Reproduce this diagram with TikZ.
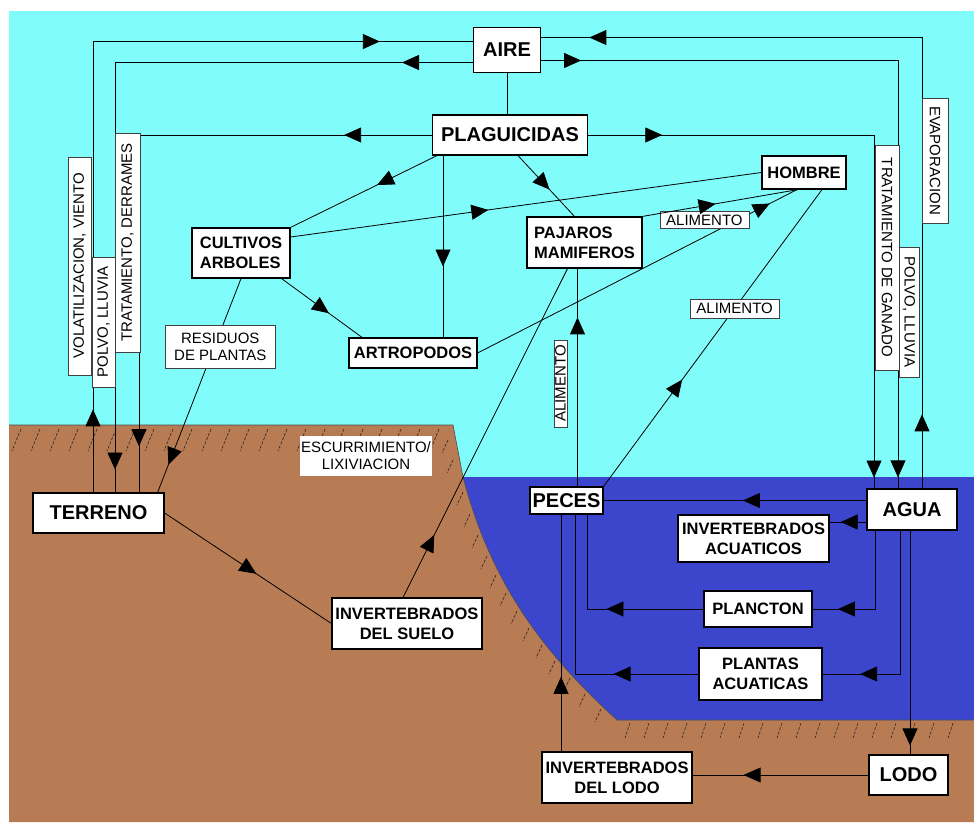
\documentclass[tikz,border=0pt]{standalone}
\usepackage{fontspec}
\setmainfont{Liberation Sans}
\usepackage{tikz}
\usetikzlibrary{arrows.meta, decorations.markings}

\definecolor{cielo}{RGB}{128,252,250}
\definecolor{tierra}{RGB}{184,124,84}
\definecolor{mar}{RGB}{60,70,205}

\begin{document}
\begin{tikzpicture}[x=1pt,y=-1pt,line width=0.8pt]
\tikzset{
  tri/.tip={Triangle[length=17pt,width=15pt]},
  flujo/.style={postaction={decorate},decoration={markings,mark=at position #1 with {\arrow{tri}}}},
  flujos/.style 2 args={postaction={decorate},decoration={markings,mark=at position #1 with {\arrow{tri}},mark=at position #2 with {\arrow{tri}}}},
  hatch/.style={line width=0.6pt,black!85,dash pattern=on 3pt off 1.5pt}
}
\tikzstyle{box}=[draw=black,fill=white,line width=1.2pt,inner sep=2pt,align=center,font=\fontsize{16.5}{20}\selectfont\bfseries]
\tikzstyle{bigbox}=[box,font=\fontsize{20}{24}\selectfont\bfseries]
\tikzstyle{lbl}=[draw=black!75,line width=0.6pt,fill=white,inner sep=1pt,align=center,font=\fontsize{15}{17}\selectfont]

  \useasboundingbox (0,0) rectangle (974,822);

  % aire, suelo y agua
  \fill[cielo] (9,11) rectangle (974,822);
  \fill[tierra] (9,425) -- (453,425) -- (463,477) .. controls (490,580) and (540,650) .. (617,720)
        -- (974,720) -- (974,822) -- (9,822) -- cycle;
  \fill[mar] (463,477) -- (974,477) -- (974,720) -- (617,720) .. controls (540,650) and (490,580) .. (463,477) -- cycle;
  \draw[line width=0.6pt,black!70] (9,425) -- (453,425) -- (463,477) .. controls (490,580) and (540,650) .. (617,720) -- (974,720);

  \foreach \x in {21,40,...,445} \draw[hatch] (\x,429) -- ++(-9,22);
  \foreach \x/\y in {452/440,457/460,467/492,474/514,482/535,491/556,500/575,510/593,521/611,533/628,546/645,559/661,574/678,589/694,605/709}
        \draw[hatch] (\x-4,\y) -- ++(-6,13);
  \foreach \x in {630,649,...,970} \draw[hatch] (\x,723) -- ++(-5,15);

  % cajas
  \node[bigbox,minimum width=67pt,minimum height=45pt]            (aire)    at (507,50)      {AIRE};
  \node[bigbox,minimum width=155pt,minimum height=40pt]           (plag)    at (510,135)     {PLAGUICIDAS};
  \node[box,minimum width=84pt,minimum height=33pt]               (hombre)  at (804,172.5)   {HOMBRE};
  \node[box,align=left,minimum width=98pt,minimum height=50pt]    (cult)    at (241,253)     {CULTIVOS\\ARBOLES};
  \node[box,align=left,minimum width=115pt,minimum height=51pt]   (paj)     at (584.5,242.5) {PAJAROS\\MAMIFEROS};
  \node[box,minimum width=128pt,minimum height=30pt]              (artro)   at (413,353)     {ARTROPODOS};
  \node[bigbox,minimum width=131pt,minimum height=40pt]           (terr)    at (98.5,513)    {TERRENO};
  \node[box,minimum width=150pt,minimum height=51pt]              (suelo)   at (407,623.5)   {INVERTEBRADOS\\DEL SUELO};
  \node[bigbox,inner sep=1pt,minimum width=73pt,minimum height=27pt] (peces) at (566.5,500.5) {PECES};
  \node[bigbox,minimum width=90pt,minimum height=41pt]            (agua)    at (912,509.5)   {AGUA};
  \node[box,minimum width=151pt,minimum height=47pt]              (acuat)   at (753.5,538.5) {INVERTEBRADOS\\ACUATICOS};
  \node[box,minimum width=108pt,minimum height=36pt]              (planc)   at (758,609)     {PLANCTON};
  \node[box,minimum width=123pt,minimum height=52pt]              (plantas) at (760.5,674)   {PLANTAS\\ACUATICAS};
  \node[box,minimum width=150pt,minimum height=51pt]              (invlodo) at (617,777.5)   {INVERTEBRADOS\\DEL LODO};
  \node[bigbox,minimum width=79pt,minimum height=40pt]            (lodo)    at (908.5,775)   {LODO};

  % flujos
  \draw[flujos={0.1}{0.888}]  ([xshift=-5.5pt]terr.north) |- ([yshift=8.5pt]aire.west);
  \draw[flujos={0.09}{0.971}] ([yshift=-12.5pt]aire.west) -| ([xshift=16.5pt]terr.north);
  \draw[flujos={0.135}{0.929}] (plag.west) -| ([xshift=40.5pt]terr.north);
  \draw[flujos={0.089}{0.942}] ([xshift=10pt]agua.north) |- ([yshift=12.5pt]aire.east);
  \draw[flujos={0.051}{0.986}] ([yshift=-10.5pt]aire.east) -| ([xshift=-14pt]agua.north);
  \draw[flujos={0.116}{0.983}] (plag.east) -| ([xshift=-38pt]agua.north);
  \draw (aire.south) -- (aire.south |- plag.north);

  \draw[flujo=0.41] ([xshift=-73pt]plag.south) -- (cult.north east);
  \draw[flujo=0.61] ([xshift=30pt]artro.north |- plag.south) -- ([xshift=30pt]artro.north);
  \draw[flujo=0.56] ([xshift=8pt]plag.south) -- ([xshift=-10pt]paj.north);
  \draw[flujo=0.42] ([yshift=16pt]cult.east) -- (hombre.west);
  \draw[flujo=0.59] ([xshift=-9pt]cult.south east) -- ([xshift=-51pt]artro.north);
  \draw[flujo=0.87] (cult.south) -- node[lbl,pos=0.32,xshift=6pt,minimum width=110pt,minimum height=43pt] (resid) {RESIDUOS\\DE PLANTAS} ([xshift=-7pt]terr.north east);
  \draw[flujo=0.915] (artro.east) -- node[lbl,pos=0.71,yshift=17pt,minimum width=89pt,minimum height=17pt] (alima) {ALIMENTO} ([xshift=-7pt]hombre.south);
  \draw[flujo=0.47] (paj.north east) -- ([xshift=-6pt]hombre.south);
  \draw[flujo=0.36] (peces.north east) -- node[lbl,pos=0.6,minimum width=89pt,minimum height=19pt] (alimb) {ALIMENTO} ([xshift=18pt]hombre.south);
  \draw[flujo=0.19] ([xshift=-4pt]suelo.north) -- ([xshift=-17pt]paj.south);
  \draw[flujo=0.776] ([xshift=11pt]peces.north) -- ([xshift=11pt]peces.north |- paj.south);
  \draw[flujo=0.55] (terr.east) -- (suelo.west);

  \draw[flujo=0.47] (peces.east -| agua.west) -- (peces.east);
  \draw[flujo=0.7] ([yshift=-12.5pt]agua.west) -- ([yshift=-12.5pt]agua.west -| acuat.east);
  \draw[flujo=0.82] ([xshift=-37pt]agua.south) |- (planc.east);
  \draw[flujo=0.83] ([xshift=-12pt]agua.south) |- (plantas.east);
  \draw[flujo=0.96] ([xshift=-2pt]agua.south) -- ([xshift=-2pt]agua.south |- lodo.north);
  \draw[flujo=0.71] (lodo.west) -- (invlodo.east |- lodo.west);
  \draw[flujo=0.315] ([xshift=-56pt]invlodo.north) -- ([xshift=-56pt]invlodo.north |- peces.south);
  \draw[flujo=0.46] (planc.west) -| ([xshift=20.5pt]peces.south);
  \draw[flujo=0.30] (plantas.west) -| ([xshift=8.5pt]peces.south);

  % rotulos
  \node[lbl,rotate=90,minimum width=218pt,minimum height=23pt]  (vol)    at (79.5,266)   {VOLATILIZACION, VIENTO};
  \node[lbl,rotate=90,minimum width=130pt,minimum height=23pt]  (polvo)  at (103.5,322)  {POLVO, LLUVIA};
  \node[lbl,rotate=90,minimum width=219pt,minimum height=25pt]  (derr)   at (127.5,242.5) {TRATAMIENTO, DERRAMES};
  \node[lbl,rotate=-90,minimum width=125pt,minimum height=26pt] (evap)   at (935,160.5)  {EVAPORACION};
  \node[lbl,rotate=-90,minimum width=225pt,minimum height=24pt] (ganado) at (887,257.5)  {TRATAMIENTO DE GANADO};
  \node[lbl,rotate=-90,minimum width=130pt,minimum height=20pt] (lluvia) at (909,312)    {POLVO, LLUVIA};
  \node[lbl,rotate=90,minimum width=87pt,minimum height=13pt]   (alimc)  at (560.5,383.5) {ALIMENTO};
  \node[lbl,draw=none,inner sep=0pt,minimum width=132pt,minimum height=40pt] (escur) at (366,455.5) {ESCURRIMIENTO/\\LIXIVIACION};

\end{tikzpicture}
\end{document}
